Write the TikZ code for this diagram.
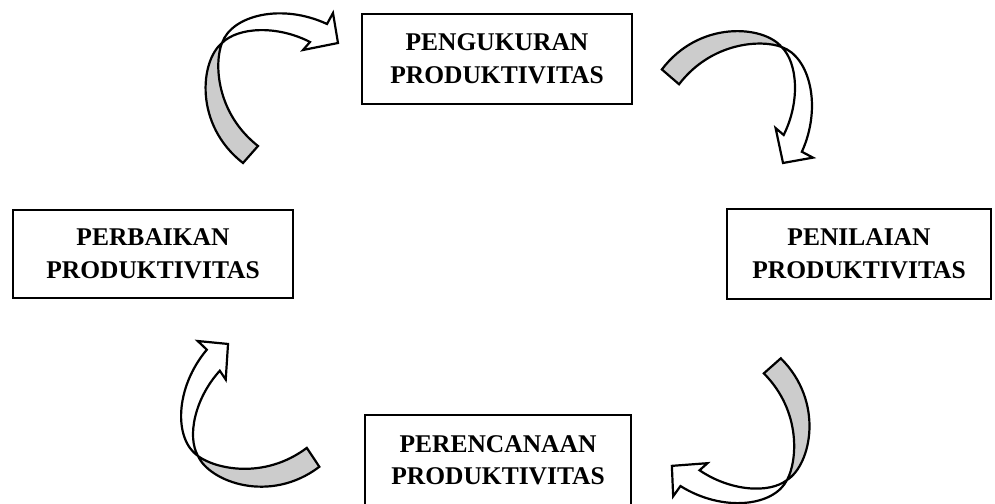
\documentclass[tikz,border=0pt]{standalone}
\usepackage{fontspec}
\setmainfont{Liberation Serif}
\tikzset{
  stagebox/.style={draw=black, line width=2pt, fill=white, align=center, inner sep=0pt,
    font=\fontsize{25.5}{32.5}\selectfont\bfseries},
  ribbonback/.style={draw=black, fill=black!20, line width=2.2pt, line join=miter, miter limit=3.5},
  ribbonfront/.style={draw=black, fill=white, line width=2.2pt, line join=miter, miter limit=3.5}
}
\newcommand\cyclearrow[3]{%
  \begin{scope}[shift={(#1,#2)}, rotate=#3]
    \path[ribbonback] (0,0) .. controls (-22,18) and (-28,82) .. (21,120) -- (36,103)
      .. controls (-6,70) and (-8,20) .. (0,0) -- cycle;
    \path[ribbonfront] (0,0) .. controls (10,-28) and (60,-40) .. (105,-19) -- (111,-30)
      -- (116,0) -- (81,7) -- (88,-1) .. controls (55,-18) and (16,-16) .. (0,0) -- cycle;
  \end{scope}}
\begin{document}
\begin{tikzpicture}[x=1pt,y=-1pt]
  \useasboundingbox (0,0) rectangle (995,503);
  \clip (0,0) rectangle (995,503);
  \fill[white] (0,0) rectangle (995,503);

  \node[stagebox, minimum width=270pt, minimum height=90pt] (ukur) at (497,59)
    {PENGUKURAN\\PRODUKTIVITAS};
  \node[stagebox, minimum width=264pt, minimum height=90pt] (nilai) at (859,254)
    {PENILAIAN\\PRODUKTIVITAS};
  \node[stagebox, minimum width=280pt, minimum height=88pt] (baik) at (153,254)
    {PERBAIKAN\\PRODUKTIVITAS};
  \node[stagebox, minimum width=266pt, minimum height=90pt] (rencana) at (498,460)
    {PERENCANAAN\\PRODUKTIVITAS};

  \cyclearrow{222}{43}{0}
  \cyclearrow{781.6}{47}{-89.3}
  \cyclearrow{787}{480}{-187}
  \cyclearrow{198}{456}{75}
\end{tikzpicture}
\end{document}
